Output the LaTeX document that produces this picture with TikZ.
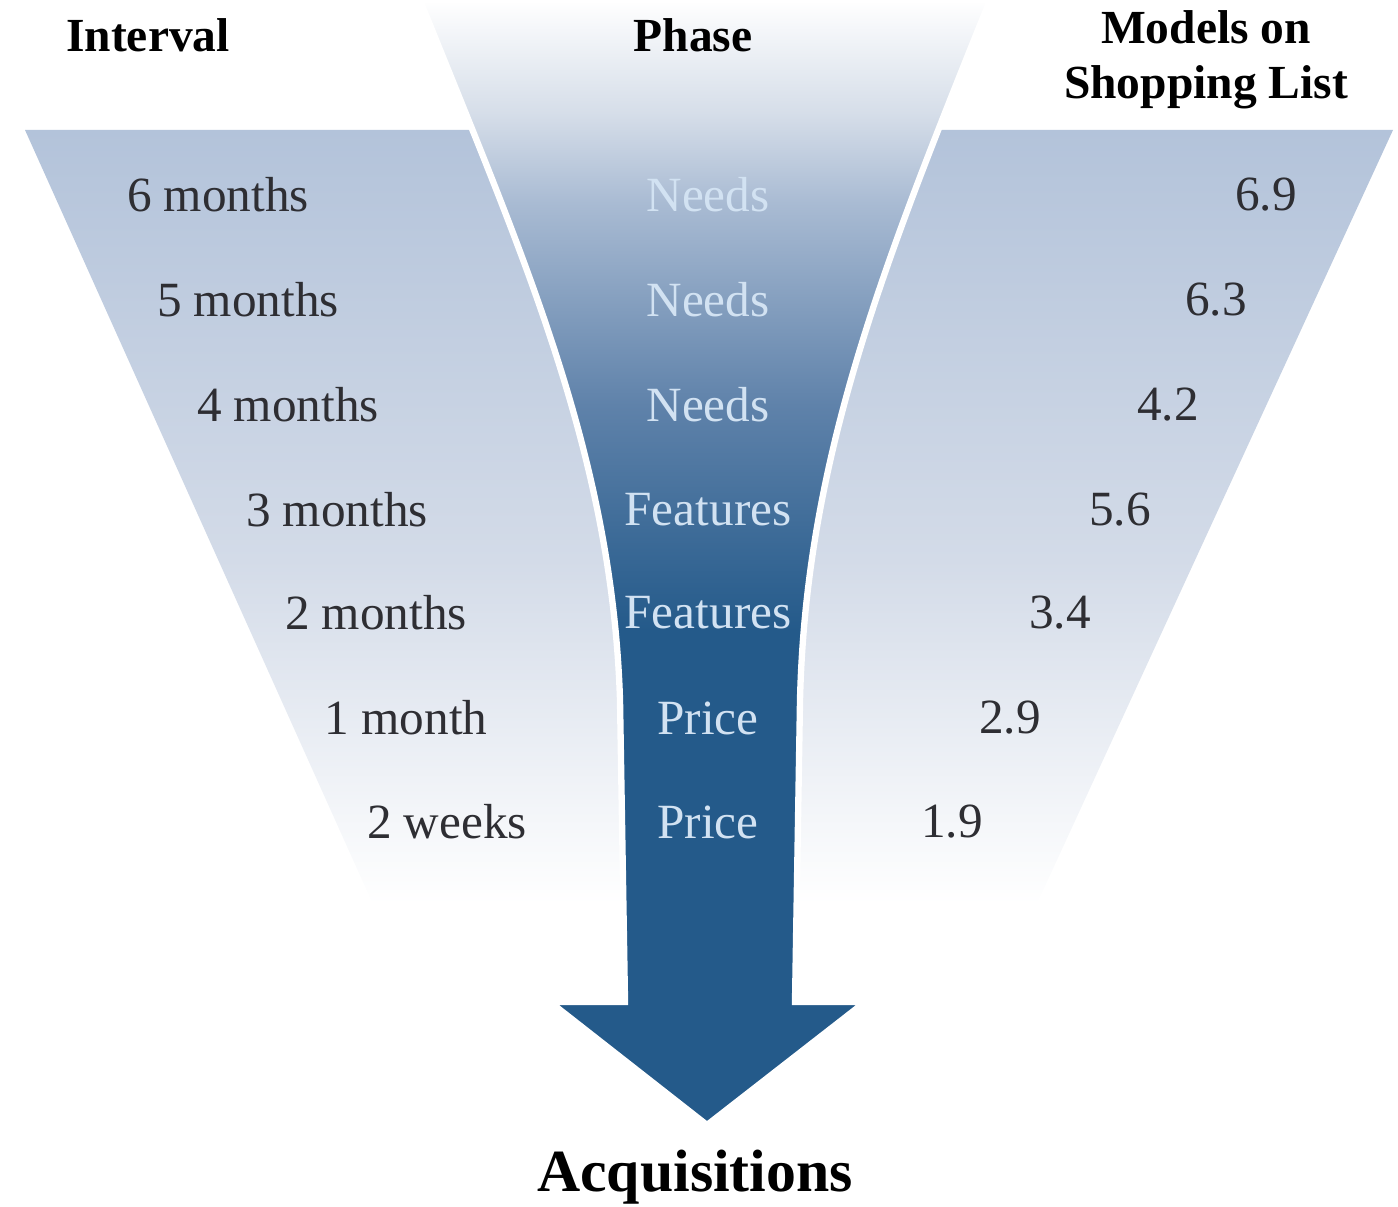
\documentclass[tikz,border=0pt]{standalone}
\usepackage{fontspec}
\setmainfont{Liberation Serif}
\usepackage{xcolor}
\usetikzlibrary{math}

\definecolor{banddark}{HTML}{B3C3DA}
\definecolor{bandmid}{HTML}{D3DBE8}
\definecolor{funneldark}{HTML}{245A8A}
\definecolor{funnelmid}{HTML}{5F82AA}
\definecolor{funnellight}{HTML}{A9BBD3}
\definecolor{funnelpale}{HTML}{D6DEE9}
\definecolor{phasetext}{HTML}{D2E2F2}
\definecolor{rowtext}{HTML}{2E2E33}

% funnel: dark at the bottom, white at the top
\pgfdeclareverticalshading{funnelshade}{100bp}{color(0bp)=(funneldark); color(47bp)=(funneldark);
  color(57bp)=(funnelmid); color(66bp)=(funnellight); color(70bp)=(funnelpale);
  color(75bp)=(white); color(100bp)=(white)}

% band: light blue at the top, white well before the bottom
\pgfdeclareverticalshading{bandshade}{100bp}{color(0bp)=(white); color(30bp)=(white);
  color(50bp)=(bandmid); color(75bp)=(banddark); color(100bp)=(banddark)}

\begin{document}
\begin{tikzpicture}[x=0.01cm,y=-0.01cm,
  head/.style={font=\bfseries\fontsize{13.5}{15.5}\selectfont, inner sep=0, align=center},
  interval/.style={font=\fontsize{14}{16}\selectfont, text=rowtext, inner sep=0},
  phase/.style={font=\fontsize{14}{16}\selectfont, text=phasetext, inner sep=0},
  models/.style={font=\fontsize{14}{16}\selectfont, text=rowtext, inner sep=0}]

  \tikzmath{
    \bandtop = 130; % upper edge of the light band
    \bandbot = 960; % where the band has faded out
  }

  \useasboundingbox (0,0) rectangle (1398,1207);

  % light band behind the funnel
  \shade[shading=bandshade]
    (25,\bandtop) -- (1393,\bandtop) -- (1011,\bandbot)
    .. controls (850,990) and (560,990) .. (398,\bandbot) -- cycle;

  % funnel ending in the arrow
  \shadedraw[shading=funnelshade, draw=white, line width=1.8pt]
    (420,0) .. controls (520,250) and (612,450) .. (620,700)
    -- (625,1002) -- (550,1002) -- (707,1125) -- (865,1002) -- (795,1002)
    -- (800,700) .. controls (806,450) and (890,250) .. (990,0) -- cycle;

  % column heads
  \node[head] (interval) at (148,35) {Interval};
  \node[head] (phase) at (693,35) {Phase};
  \node[head] (models) at (1206,60) {Models on\\Shopping List};

  % interval column
  \node[interval] (int6) at (218,195) {6 months};
  \node[interval] (int5) at (248,300) {5 months};
  \node[interval] (int4) at (288,405) {4 months};
  \node[interval] (int3) at (337,510) {3 months};
  \node[interval] (int2) at (376,613) {2 months};
  \node[interval] (int1) at (406,718) {1 month};
  \node[interval] (int0) at (447,822) {2 weeks};

  % phase column
  \node[phase] (ph6) at (708,195) {Needs};
  \node[phase] (ph5) at (708,300) {Needs};
  \node[phase] (ph4) at (708,405) {Needs};
  \node[phase] (ph3) at (708,510) {Features};
  \node[phase] (ph2) at (708,613) {Features};
  \node[phase] (ph1) at (708,718) {Price};
  \node[phase] (ph0) at (708,822) {Price};

  % models column
  \node[models] (mod6) at (1266,195) {6.9};
  \node[models] (mod5) at (1216,300) {6.3};
  \node[models] (mod4) at (1168,405) {4.2};
  \node[models] (mod3) at (1120,510) {5.6};
  \node[models] (mod2) at (1060,613) {3.4};
  \node[models] (mod1) at (1010,718) {2.9};
  \node[models] (mod0) at (952,822) {1.9};

  % result
  \node[head, font=\bfseries\fontsize{17}{19}\selectfont] (acq) at (695,1177) {Acquisitions};

\end{tikzpicture}
\end{document}
